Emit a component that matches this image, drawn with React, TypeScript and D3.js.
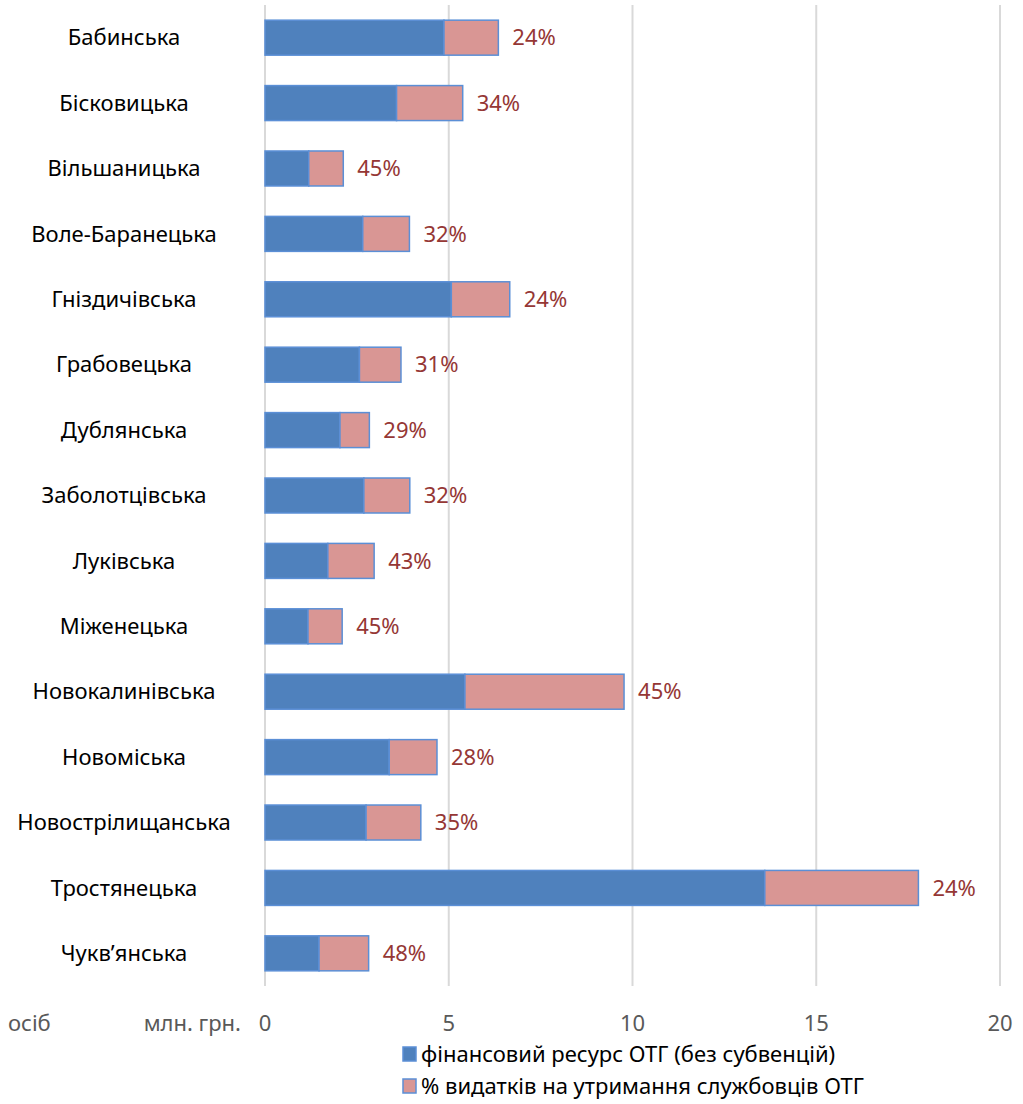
import React from "react";
import * as d3 from "d3";

const categories = [
  "Бабинська",
  "Бісковицька",
  "Вільшаницька",
  "Воле-Баранецька",
  "Гніздичівська",
  "Грабовецька",
  "Дублянська",
  "Заболотцівська",
  "Луківська",
  "Міженецька",
  "Новокалинівська",
  "Новоміська",
  "Новострілищанська",
  "Тростянецька",
  "Чукв’янська",
];

// blue segment (фінансовий ресурс ОТГ без субвенцій), млн. грн.
const financeValues = [4.87, 3.58, 1.19, 2.66, 5.07, 2.57, 2.04, 2.69, 1.71, 1.17, 5.44, 3.38, 2.75, 13.6, 1.47];
// pink segment (видатки на утримання службовців), млн. грн.
const staffValues = [1.48, 1.8, 0.94, 1.27, 1.59, 1.13, 0.8, 1.25, 1.26, 0.93, 4.33, 1.3, 1.49, 4.18, 1.35];
const pctLabels = ["24%", "34%", "45%", "32%", "24%", "31%", "29%", "32%", "43%", "45%", "45%", "28%", "35%", "24%", "48%"];

const xTicks = [0, 5, 10, 15, 20];
const seriesNames = ["фінансовий ресурс ОТГ (без субвенцій)", "% видатків на утримання службовців ОТГ"];
const unitLabels = ["осіб", "млн. грн."];

const W = 1023;
const H = 1104;
const FONT = "'Noto Sans', 'Open Sans', sans-serif";
const FS = 22;
const BLUE = "#4F81BD";
const PINK = "#D99694";
const EDGE = "#5B8FD6";
const LABEL_RED = "#953735";

export default function App() {
  const x = d3.scaleLinear().domain([0, 20]).range([265, 1000]);
  const y = d3.scaleBand<string>().domain(categories).range([5, 986]).paddingInner(0.465).paddingOuter(0.232);
  const bh = y.bandwidth();

  return (
    <svg width={W} height={H} style={{ position: "absolute", left: 0, top: 0, background: "#fff" }} fontFamily={FONT}>
      {xTicks.map((t) => (
        <line key={"g" + t} x1={x(t)} x2={x(t)} y1={5} y2={986} stroke="#D9D9D9" strokeWidth={2} />
      ))}
      {categories.map((c, i) => {
        const y0 = y(c)!;
        const cy = y0 + bh / 2;
        const x0 = x(0);
        const x1 = x(financeValues[i]);
        const x2 = x(financeValues[i] + staffValues[i]);
        return (
          <g key={c}>
            <rect x={x0} y={y0} width={x1 - x0} height={bh} fill={BLUE} stroke={EDGE} strokeWidth={1.5} />
            <rect x={x1} y={y0} width={x2 - x1} height={bh} fill={PINK} stroke={EDGE} strokeWidth={1.5} />
            <text x={x2 + 14} y={cy} dy="0.35em" fontSize={FS} fill={LABEL_RED}>
              {pctLabels[i]}
            </text>
            <text x={124} y={cy} dy="0.35em" fontSize={FS} fill="#000" textAnchor="middle">
              {c}
            </text>
          </g>
        );
      })}
      {xTicks.map((t) => (
        <text key={"t" + t} x={x(t)} y={1023} dy="0.35em" fontSize={FS} fill="#595959" textAnchor="middle">
          {t}
        </text>
      ))}
      <text x={8} y={1023} dy="0.35em" fontSize={FS} fill="#595959">
        {unitLabels[0]}
      </text>
      <text x={241} y={1023} dy="0.35em" fontSize={FS} fill="#595959" textAnchor="end">
        {unitLabels[1]}
      </text>
      {seriesNames.map((s, i) => (
        <g key={s} transform={`translate(403, ${1054 + i * 32})`}>
          <rect x={0} y={-7} width={13} height={14} fill={i === 0 ? BLUE : PINK} stroke={EDGE} strokeWidth={1.5} />
          <text x={18} y={0} dy="0.35em" fontSize={FS} fill="#000">
            {s}
          </text>
        </g>
      ))}
    </svg>
  );
}
